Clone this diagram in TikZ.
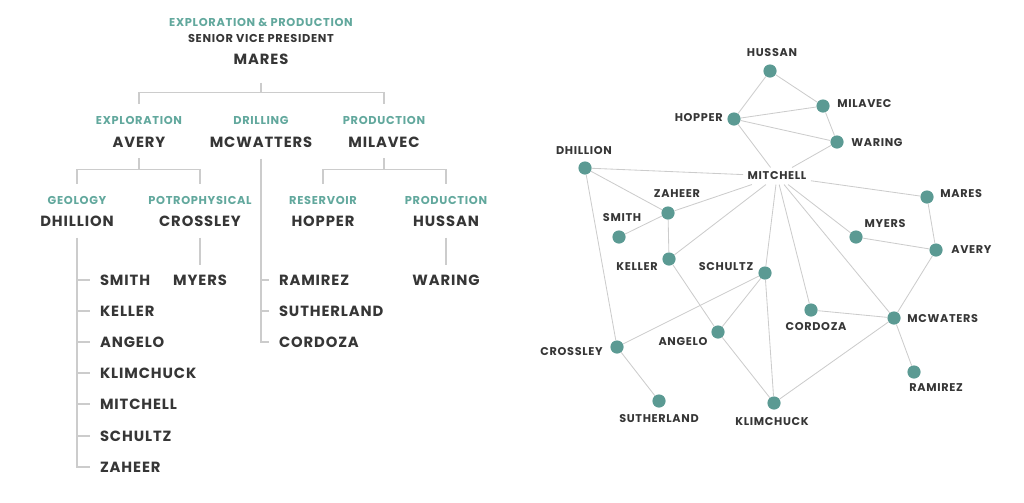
\documentclass[tikz,border=0pt]{standalone}
\usepackage{fontspec}
\setmainfont{Poppins}[BoldFont={* SemiBold}]
\newfontfamily\tagfont{Poppins Bold}[LetterSpace=6]
\usetikzlibrary{positioning}

\definecolor{tealtext}{HTML}{62A89D}
\definecolor{dotfill}{HTML}{5B9A93}
\definecolor{ink}{HTML}{363636}
\definecolor{rulegray}{HTML}{CCCCCC}

\begin{document}
\begin{tikzpicture}[
        x=0.025cm, y=-0.025cm, % 1 unit = 1 pixel of the sketch
        head/.style = {font=\tagfont\fontsize{10.5}{13}\selectfont, text=ink, inner sep=0pt, outer sep=0.46cm},
        dept/.style = {font=\tagfont\fontsize{8.1}{9}\selectfont, text=tealtext, inner sep=0pt, outer sep=0.3cm},
        title/.style = {font=\tagfont\fontsize{8.1}{9}\selectfont, text=ink, inner sep=0pt},
        boss/.style = {font=\tagfont\fontsize{10.5}{13}\selectfont, text=ink, inner sep=0pt, outer sep=0.28cm},
        staff/.style = {font=\tagfont\fontsize{10.5}{13}\selectfont, text=ink, inner sep=0pt, outer sep=0.25cm},
        orgline/.style = {draw=rulegray, line width=0.9pt},
        dot/.style = {circle, fill=dotfill, minimum size=0.33cm, inner sep=0pt}, % Стиль точек сети
        tag/.style = {font=\tagfont\fontsize{8}{9}\selectfont, text=ink, inner sep=0pt},
        link/.style = {draw=rulegray, line width=0.6pt},
    ]
    \useasboundingbox (0,0) rectangle (1024,502);

    % org chart
    \node[dept] (o-ep) at (261,22) {EXPLORATION \& PRODUCTION};
    \node[title] (o-svp) at (261,38) {SENIOR VICE PRESIDENT};
    \node[head] (o-mares) at (261,59) {MARES};

    \node[dept] (o-expl) at (139,120) {EXPLORATION};
    \node[boss] (o-avery) at (139,142) {AVERY};
    \node[dept] (o-drill) at (261,120) {DRILLING};
    \node[boss] (o-mcwatters) at (261,142) {MCWATTERS};
    \node[dept] (o-prod) at (384,120) {PRODUCTION};
    \node[boss] (o-milavec) at (384,142) {MILAVEC};

    \node[dept] (o-geo) at (77,200) {GEOLOGY};
    \node[boss] (o-dhillion) at (77,221) {DHILLION};
    \node[dept] (o-petro) at (200,200) {POTROPHYSICAL};
    \node[boss] (o-crossley) at (200,221) {CROSSLEY};
    \node[dept] (o-res) at (323,200) {RESERVOIR};
    \node[boss] (o-hopper) at (323,221) {HOPPER};
    \node[dept] (o-prod2) at (446,200) {PRODUCTION};
    \node[boss] (o-hussan) at (446,221) {HUSSAN};

    \node[staff, anchor=west] (o-smith) at (90,280) {SMITH};
    \node[staff, anchor=west] (o-keller) at (90,311) {KELLER};
    \node[staff, anchor=west] (o-angelo) at (90,342) {ANGELO};
    \node[staff, anchor=west] (o-klimchuck) at (90,373) {KLIMCHUCK};
    \node[staff, anchor=west] (o-mitchell) at (90,404) {MITCHELL};
    \node[staff, anchor=west] (o-schultz) at (90,436) {SCHULTZ};
    \node[staff, anchor=west] (o-zaheer) at (90,467) {ZAHEER};
    \node[staff] (o-myers) at (200,280) {MYERS};
    \node[staff, anchor=west] (o-ramirez) at (269,280) {RAMIREZ};
    \node[staff, anchor=west] (o-sutherland) at (269,311) {SUTHERLAND};
    \node[staff, anchor=west] (o-cordoza) at (269,342) {CORDOZA};
    \node[staff] (o-waring) at (446,280) {WARING};

    \draw[orgline] (o-mares.south) -- ++(0,10) -| (o-expl.north);
    \draw[orgline] (o-mares.south) ++(0,10) -| (o-prod.north);
    \draw[orgline] (o-avery.south) -- ++(0,11) -| (o-geo.north);
    \draw[orgline] (o-avery.south) ++(0,11) -| (o-petro.north);
    \draw[orgline] (o-milavec.south) -- ++(0,11) -| (o-res.north);
    \draw[orgline] (o-milavec.south) ++(0,11) -| (o-prod2.north);
    \draw[orgline] (o-crossley) -- (o-myers);
    \draw[orgline] (o-hussan) -- (o-waring);
    \draw[orgline] (o-dhillion.south) |- (o-zaheer.west);
    \foreach \s in {smith, keller, angelo, klimchuck, mitchell, schultz}
        \draw[orgline] (o-dhillion.south |- o-\s.west) -- (o-\s.west);
    \draw[orgline] (o-mcwatters.south) |- (o-cordoza.west);
    \foreach \s in {ramirez, sutherland}
        \draw[orgline] (o-mcwatters.south |- o-\s.west) -- (o-\s.west);

    % network
    \node[dot] (p-hussan) at (770,71) {};
    \node[dot] (p-milavec) at (823,106) {};
    \node[dot] (p-hopper) at (734,119) {};
    \node[dot] (p-waring) at (837,142) {};
    \node[dot] (p-dhillion) at (585,168) {};
    \node[tag, inner sep=3pt] (p-mitchell) at (777,176) {MITCHELL};
    \node[dot] (p-zaheer) at (668,213) {};
    \node[dot] (p-smith) at (619,237) {};
    \node[dot] (p-mares) at (927,197) {};
    \node[dot] (p-myers) at (856,237) {};
    \node[dot] (p-avery) at (936,250) {};
    \node[dot] (p-keller) at (669,259) {};
    \node[dot] (p-schultz) at (765,273) {};
    \node[dot] (p-cordoza) at (811,310) {};
    \node[dot] (p-mcwaters) at (894,318) {};
    \node[dot] (p-angelo) at (718,332) {};
    \node[dot] (p-crossley) at (617,347) {};
    \node[dot] (p-ramirez) at (914,372) {};
    \node[dot] (p-sutherland) at (659,401) {};
    \node[dot] (p-klimchuck) at (774,403) {};

    \node[tag] (l-hussan) at (772,53) {HUSSAN};
    \node[tag, anchor=west] (l-milavec) at (837,104) {MILAVEC};
    \node[tag, anchor=east] (l-hopper) at (723,118) {HOPPER};
    \node[tag, anchor=west] (l-waring) at (851,143) {WARING};
    \node[tag] (l-dhillion) at (584,151) {DHILLION};
    \node[tag] (l-zaheer) at (677,194) {ZAHEER};
    \node[tag] (l-smith) at (622,218) {SMITH};
    \node[tag, anchor=west] (l-mares) at (940,194) {MARES};
    \node[tag] (l-myers) at (885,224) {MYERS};
    \node[tag, anchor=west] (l-avery) at (951,250) {AVERY};
    \node[tag] (l-keller) at (637,267) {KELLER};
    \node[tag] (l-schultz) at (726,267) {SCHULTZ};
    \node[tag] (l-cordoza) at (816,327) {CORDOZA};
    \node[tag, anchor=west] (l-mcwaters) at (907,319) {MCWATERS};
    \node[tag] (l-angelo) at (683,342) {ANGELO};
    \node[tag, anchor=east] (l-crossley) at (603,352) {CROSSLEY};
    \node[tag] (l-ramirez) at (936,388) {RAMIREZ};
    \node[tag] (l-sutherland) at (659,419) {SUTHERLAND};
    \node[tag] (l-klimchuck) at (772,422) {KLIMCHUCK};

    \draw[link] (p-hussan) -- (p-hopper);
    \draw[link] (p-hussan) -- (p-milavec);
    \draw[link] (p-hopper) -- (p-milavec);
    \draw[link] (p-hopper) -- (p-waring);
    \draw[link] (p-milavec) -- (p-waring);
    \draw[link] (p-hopper) -- (p-mitchell);
    \draw[link] (p-waring) -- (p-mitchell);
    \draw[link] (p-dhillion) -- (p-mitchell);
    \draw[link] (p-dhillion) -- (p-zaheer);
    \draw[link] (p-dhillion) -- (p-crossley);
    \draw[link] (p-zaheer) -- (p-mitchell);
    \draw[link] (p-zaheer) -- (p-smith);
    \draw[link] (p-zaheer) -- (p-keller);
    \draw[link] (p-mitchell) -- (p-keller);
    \draw[link] (p-mitchell) -- (p-schultz);
    \draw[link] (p-mitchell) -- (p-cordoza);
    \draw[link] (p-mitchell) -- (p-mcwaters);
    \draw[link] (p-mitchell) -- (p-myers);
    \draw[link] (p-mitchell) -- (p-mares);
    \draw[link] (p-mares) -- (p-avery);
    \draw[link] (p-myers) -- (p-avery);
    \draw[link] (p-avery) -- (p-mcwaters);
    \draw[link] (p-keller) -- (p-angelo);
    \draw[link] (p-angelo) -- (p-klimchuck);
    \draw[link] (p-schultz) -- (p-angelo);
    \draw[link] (p-schultz) -- (p-crossley);
    \draw[link] (p-schultz) -- (p-klimchuck);
    \draw[link] (p-cordoza) -- (p-mcwaters);
    \draw[link] (p-mcwaters) -- (p-klimchuck);
    \draw[link] (p-mcwaters) -- (p-ramirez);
    \draw[link] (p-crossley) -- (p-sutherland);
\end{tikzpicture}
\end{document}
